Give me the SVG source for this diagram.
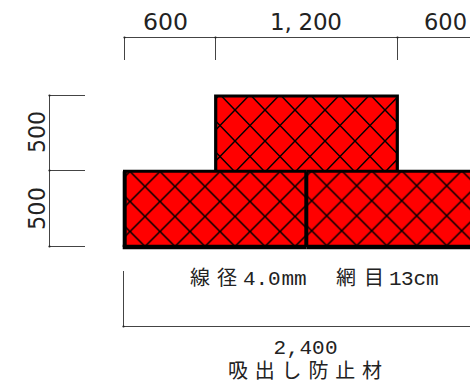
<svg xmlns="http://www.w3.org/2000/svg" width="470" height="385" viewBox="0 0 470 385">
<style>
.dim{fill:none;stroke:#444;stroke-width:1}
.dot{fill:#222}
.edge{stroke:#000;fill:none}
.h{stroke:#000;stroke-width:1.5;fill:none}
.lbl{font-family:"DejaVu Sans",sans-serif;font-size:23px;fill:#222}
.mono{font-family:"Liberation Mono",monospace;font-size:21px;fill:#222}
.cjk{font-family:"Noto Sans CJK JP",sans-serif;font-size:20px;fill:#222}
</style>
<defs>
<pattern id="hatchA" patternUnits="userSpaceOnUse" x="265" y="110" width="30" height="31"><rect width="30" height="31" fill="#f00"/><path class="h" d="M0 0L30 31M30 0L0 31"/></pattern>
<pattern id="hatchB" patternUnits="userSpaceOnUse" x="250" y="201.5" width="30" height="30"><rect width="30" height="30" fill="#f00"/><path class="h" d="M0 0L30 30M30 0L0 30"/></pattern>
<pattern id="hatchC" patternUnits="userSpaceOnUse" x="341.7" y="200.7" width="30" height="30"><rect width="30" height="30" fill="#f00"/><path class="h" d="M0 0L30 30M30 0L0 30"/></pattern>
<circle id="d" class="dot" r="1.100"/>
</defs>
<g id="connectors">
<path class="dim" d="M124.500 37.500H470M124.500 37.500V60M215.500 37.500V60M397.500 37.500V60"/>
<path class="dim" d="M49.500 95.500H85M49.500 170.500H85M49.500 246.500H85M49.500 95.500V246.500"/>
<path class="dim" d="M123.500 271V326.500H470" />
<use href="#d" x="124.500" y="37.500"/><use href="#d" x="215.500" y="37.500"/><use href="#d" x="397.500" y="37.500"/>
<use href="#d" x="49.500" y="95.500"/><use href="#d" x="49.500" y="170.500"/><use href="#d" x="49.500" y="246.500"/>
<use href="#d" x="123.500" y="326.500"/>
</g>
<g id="block-top">
<rect x="215.700" y="96" width="181.600" height="75" fill="url(#hatchA)"/>
<path class="edge" stroke-width="3.200" d="M215.700 171V96H397.300V171"/>
</g>
<g id="block-left">
<rect x="124.700" y="171.300" width="181.600" height="75.700" fill="url(#hatchB)"/>
<path class="edge" stroke-width="4" d="M124.700 171.300V247"/>
<path class="edge" stroke-width="3" d="M123 171.300H306.300"/>
<path class="edge" stroke-width="4.300" d="M122.700 247H306.300"/>
</g>
<g id="block-right">
<rect x="306.300" y="171.300" width="163.700" height="75.700" fill="url(#hatchC)"/>
<path class="edge" stroke-width="3" d="M306.300 171.300H470"/>
<path class="edge" stroke-width="4.300" d="M306.300 247H470"/>
<path class="edge" stroke-width="4" d="M306.300 171.300V247"/>
</g>
<g id="labels">
<text class="lbl" x="143" y="30" textLength="45" lengthAdjust="spacingAndGlyphs">600</text>
<text class="lbl" x="270" y="30" textLength="72" lengthAdjust="spacing">1, 200</text>
<text class="lbl" x="424" y="30" textLength="43" lengthAdjust="spacingAndGlyphs">600</text>
<text class="lbl" transform="translate(44.500 153) rotate(-90)" textLength="42" lengthAdjust="spacingAndGlyphs">500</text>
<text class="lbl" transform="translate(44.500 230) rotate(-90)" textLength="43" lengthAdjust="spacingAndGlyphs">500</text>
<text class="cjk" y="285"><tspan x="190 217">線径</tspan></text>
<text class="mono" y="285"><tspan x="243 255.500 268 281.500 294">4.0mm</tspan></text>
<text class="cjk" y="285"><tspan x="336 364">網目</tspan></text>
<text class="mono" y="285"><tspan x="389 401 413.500 426">13cm</tspan></text>
<text class="mono" y="354"><tspan x="273.500 286.500 299.500 312 325">2,400</tspan></text>
<text class="cjk" x="228" y="378" textLength="154">吸出し防止材</text>
</g>
</svg>
